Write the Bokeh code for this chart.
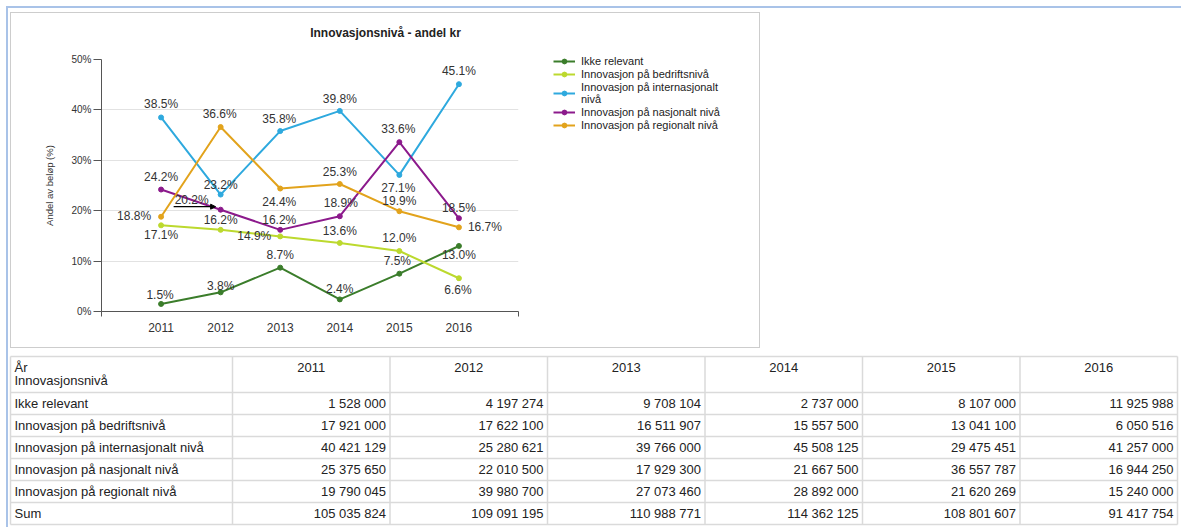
from bokeh.plotting import figure
from bokeh.models import (Range1d, FixedTicker, Legend, LegendItem, Arrow, NormalHead, Spacer)
from bokeh.layouts import column, row
from bokeh.embed import file_html
from bokeh.resources import INLINE
from bokeh.core.properties import value

# ---------------- data ----------------
years = [2011, 2012, 2013, 2014, 2015, 2016]
series_names = ["Ikke relevant",
                "Innovasjon på bedriftsnivå",
                "Innovasjon på internasjonalt nivå",
                "Innovasjon på nasjonalt nivå",
                "Innovasjon på regionalt nivå"]
legend_labels = ["Ikke relevant",
                 "Innovasjon på bedriftsnivå",
                 "Innovasjon på internasjonalt\nnivå",
                 "Innovasjon på nasjonalt nivå",
                 "Innovasjon på regionalt nivå"]
pct_ikke = [1.5, 3.8, 8.7, 2.4, 7.5, 13.0]
pct_bedrift = [17.1, 16.2, 14.9, 13.6, 12.0, 6.6]
pct_intern = [38.5, 23.2, 35.8, 39.8, 27.1, 45.1]
pct_nasj = [24.2, 20.2, 16.2, 18.9, 33.6, 18.5]
pct_region = [18.8, 36.6, 24.4, 25.3, 19.9, 16.7]

kr_ikke = [1528000, 4197274, 9708104, 2737000, 8107000, 11925988]
kr_bedrift = [17921000, 17622100, 16511907, 15557500, 13041100, 6050516]
kr_intern = [40421129, 25280621, 39766000, 45508125, 29475451, 41257000]
kr_nasj = [25375650, 22010500, 17929300, 21667500, 36557787, 16944250]
kr_region = [19790045, 39980700, 27073460, 28892000, 21620269, 15240000]
kr_sum = [105035824, 109091195, 110988771, 114362125, 108801607, 91417754]

y_ticks = [0, 10, 20, 30, 40, 50]
y_tick_labels = ["0%", "10%", "20%", "30%", "40%", "50%"]

title_text = "Innovasjonsnivå - andel kr"
y_label = "Andel av beløp (%)"
table_head_1 = "År"
table_head_2 = "Innovasjonsnivå"
sum_label = "Sum"

# ---------------- style ----------------
colors = ["#3b7d2b", "#bcd92e", "#2ea9de", "#8c1a8c", "#e2a31c"]
# per-point label offsets in pixels (dx right, dy down)
lbl_dx = [[-1, 0, 0, 0, -2, 0],
          [0, 0, -26, 0, 0, -1],
          [0, 0, -1, 0, -1, 0],
          [0, -29, -1, 1, -1, 0],
          [-27, -1, -1, 0, 0, 26]]
lbl_dy = [[-9, -6, -13, -10, -13, 9],
          [10, -10, 0, -12, -13, 12],
          [-13, -10, -12, -12, 13, -13],
          [-13, -10, -10, -13, -13, -10],
          [-1, -13, 13, -12, -10, 0]]

FONT = "Liberation Sans"
BLUE = "#a9c3e8"
BOX_GRAY = "#cdcdcd"
GRID_GRAY = "#dadada"
TXT = "#333333"

BOX_W, BOX_H = 750, 336          # grey chart box (outer)
IN_W, IN_H = BOX_W - 2, BOX_H - 2
TITLE_H = 34
CH_W = 534                        # chart figure width inside box
LG_W = IN_W - CH_W                # legend figure width
ROW_H = IN_H - TITLE_H
FL, FR, FT, FB = 90, 507, 12, 264  # plot frame inside chart figure (px)

TAB_W, TAB_H = 1172, 175


def flat_fig(w, h, **kw):
    f = figure(width=w, height=h, x_range=Range1d(0, w), y_range=Range1d(h, 0),
               min_border=0, x_axis_type=None, y_axis_type=None,
               toolbar_location=None, tools="", output_backend="svg",
               frame_align=False, **kw)
    f.outline_line_color = None
    f.background_fill_color = "white"
    f.border_fill_color = "white"
    return f


def bar(w, h, color):
    return Spacer(width=w, height=h, styles={"background-color": color})


# ---------------- title ----------------
tfig = flat_fig(IN_W, TITLE_H)
tfig.text(x=[IN_W / 2], y=[19], text=[title_text], text_align="center",
          text_baseline="middle", text_font=value(FONT), text_font_size="12px",
          text_font_style="bold", text_color="#222222")

# ---------------- chart ----------------
p = figure(width=CH_W, height=ROW_H, x_range=Range1d(2010, 2017), y_range=Range1d(0, 50),
           min_border_left=FL, min_border_right=CH_W - FR, min_border_top=FT,
           min_border_bottom=ROW_H - FB, toolbar_location=None, tools="",
           output_backend="svg", frame_align=False)
p.outline_line_color = None
p.background_fill_color = "white"
p.border_fill_color = "white"

p.xaxis.ticker = FixedTicker(ticks=years, minor_ticks=[2010, 2017])
p.xaxis.major_tick_out = 0
p.xaxis.major_tick_in = 0
p.xaxis.major_tick_line_color = None
p.xaxis.minor_tick_out = 5
p.xaxis.minor_tick_in = 0
p.xaxis.minor_tick_line_color = "#555555"
p.xaxis.major_label_standoff = 6
p.xaxis.major_label_text_font = FONT
p.xaxis.major_label_text_font_size = "12px"
p.xaxis.major_label_text_color = TXT
p.xaxis.axis_line_color = "#555555"

p.yaxis.ticker = FixedTicker(ticks=y_ticks)
p.yaxis.major_label_overrides = dict(zip(y_ticks, y_tick_labels))
p.yaxis.major_tick_out = 8
p.yaxis.major_tick_in = 0
p.yaxis.minor_tick_line_color = None
p.yaxis.major_tick_line_color = "#555555"
p.yaxis.axis_line_color = "#555555"
p.yaxis.major_label_standoff = 2
p.yaxis.major_label_text_font = FONT
p.yaxis.major_label_text_font_size = "10px"
p.yaxis.major_label_text_color = TXT
p.yaxis.axis_label = y_label
p.yaxis.axis_label_text_font = FONT
p.yaxis.axis_label_text_font_style = "normal"
p.yaxis.axis_label_text_font_size = "9.5px"
p.yaxis.axis_label_text_color = TXT
p.yaxis.axis_label_standoff = 13

p.xgrid.visible = False
p.ygrid.grid_line_color = "#e2e2e2"

all_pct = [pct_ikke, pct_bedrift, pct_intern, pct_nasj, pct_region]
for i, vals in enumerate(all_pct):
    p.line(years, vals, line_color=colors[i], line_width=2)
    p.scatter(years, vals, size=5, color=colors[i])
for i, vals in enumerate(all_pct):
    p.text(x=years, y=vals, text=[f"{v:.1f}%" for v in vals],
           x_offset=lbl_dx[i], y_offset=lbl_dy[i],
           text_align="center", text_baseline="middle",
           text_font=value(FONT), text_font_size="12px", text_color=TXT)

# leader line for the 20.2 % label
xpp = 7 / (FR - FL)
ypp = 50 / (FB - FT)
p.add_layout(Arrow(x_start=years[1] - 47 * xpp, y_start=pct_nasj[1] + 3 * ypp,
                   x_end=years[1] - 5 * xpp, y_end=pct_nasj[1] + 3 * ypp,
                   end=NormalHead(size=5, fill_color="black", line_color="black"),
                   line_color="black", line_width=1.2))

# ---------------- legend ----------------
lf = flat_fig(LG_W, ROW_H)
items = []
for i, name in enumerate(legend_labels):
    # renderers kept outside the visible range; they only feed the legend swatches
    lr = lf.line(x=[-20, -10], y=[-20, -20], line_color=colors[i], line_width=2)
    sr = lf.scatter(x=[-15], y=[-20], size=4, color=colors[i])
    items.append(LegendItem(label=name, renderers=[lr, sr]))
legend = Legend(items=items, location="top_left")
legend.label_text_font = FONT
legend.label_text_font_size = "11px"
legend.label_text_color = "#222222"
legend.glyph_width = 22
legend.glyph_height = 12
legend.label_height = 12
legend.label_standoff = 6
legend.spacing = 1
legend.padding = 0
legend.margin = 8
legend.border_line_color = None
legend.background_fill_alpha = 0
lf.add_layout(legend)

inner_box = column(tfig, row(p, lf, spacing=0), spacing=0)
box = column(bar(BOX_W, 1, BOX_GRAY),
             row(bar(1, IN_H, BOX_GRAY), inner_box, bar(1, IN_H, BOX_GRAY), spacing=0),
             bar(BOX_W, 1, BOX_GRAY), spacing=0)

# ---------------- table ----------------
t = flat_fig(TAB_W, TAB_H)
TL, C0, TRGT = 2, 224, 1169
CW = (TRGT - C0) / len(years)
TT, HB, RH = 4, 40, 22
col_edges = [TL, C0] + [C0 + CW * (k + 1) for k in range(len(years))]
row_labels = series_names + [sum_label]
row_edges = [TT, HB] + [HB + RH * (k + 1) for k in range(len(row_labels))]

t.segment(x0=[TL] * len(row_edges), x1=[TRGT] * len(row_edges), y0=row_edges, y1=row_edges,
          line_color=GRID_GRAY, line_width=1.5)
t.segment(x0=col_edges, x1=col_edges, y0=[TT] * len(col_edges),
          y1=[row_edges[-1]] * len(col_edges), line_color=GRID_GRAY, line_width=1.5)

tf = dict(text_font=value(FONT), text_font_size="13px", text_color="#222222")
t.text(x=[TL + 4, TL + 4], y=[TT + 11, TT + 24], text=[table_head_1, table_head_2],
       text_align="left", text_baseline="middle", **tf)
t.text(x=[C0 + CW * (k + 0.5) for k in range(len(years))], y=[TT + 11] * len(years),
       text=[str(yv) for yv in years], text_align="center", text_baseline="middle", **tf)
row_mid = [(row_edges[k + 1] + row_edges[k + 2]) / 2 for k in range(len(row_labels))]
t.text(x=[TL + 4] * len(row_labels), y=row_mid, text=row_labels,
       text_align="left", text_baseline="middle", **tf)

all_kr = [kr_ikke, kr_bedrift, kr_intern, kr_nasj, kr_region, kr_sum]
vx, vy, vt = [], [], []
for r, rowvals in enumerate(all_kr):
    for c, v in enumerate(rowvals):
        vx.append(col_edges[c + 2] - 4)
        vy.append(row_mid[r])
        vt.append(f"{v:,}".replace(",", " "))
t.text(x=vx, y=vy, text=vt, text_align="right", text_baseline="middle", **tf)

# ---------------- page frame ----------------
inner = column(Spacer(height=4),
               row(Spacer(width=2), box, spacing=0),
               Spacer(height=4),
               t, spacing=0)
framed = column(bar(1175, 2, BLUE),
                row(bar(2, 519, BLUE), inner, spacing=0),
                spacing=0)
layout = column(Spacer(height=6), row(Spacer(width=6), framed, spacing=0), spacing=0)

open("out.html", "w").write(file_html(layout, INLINE))
